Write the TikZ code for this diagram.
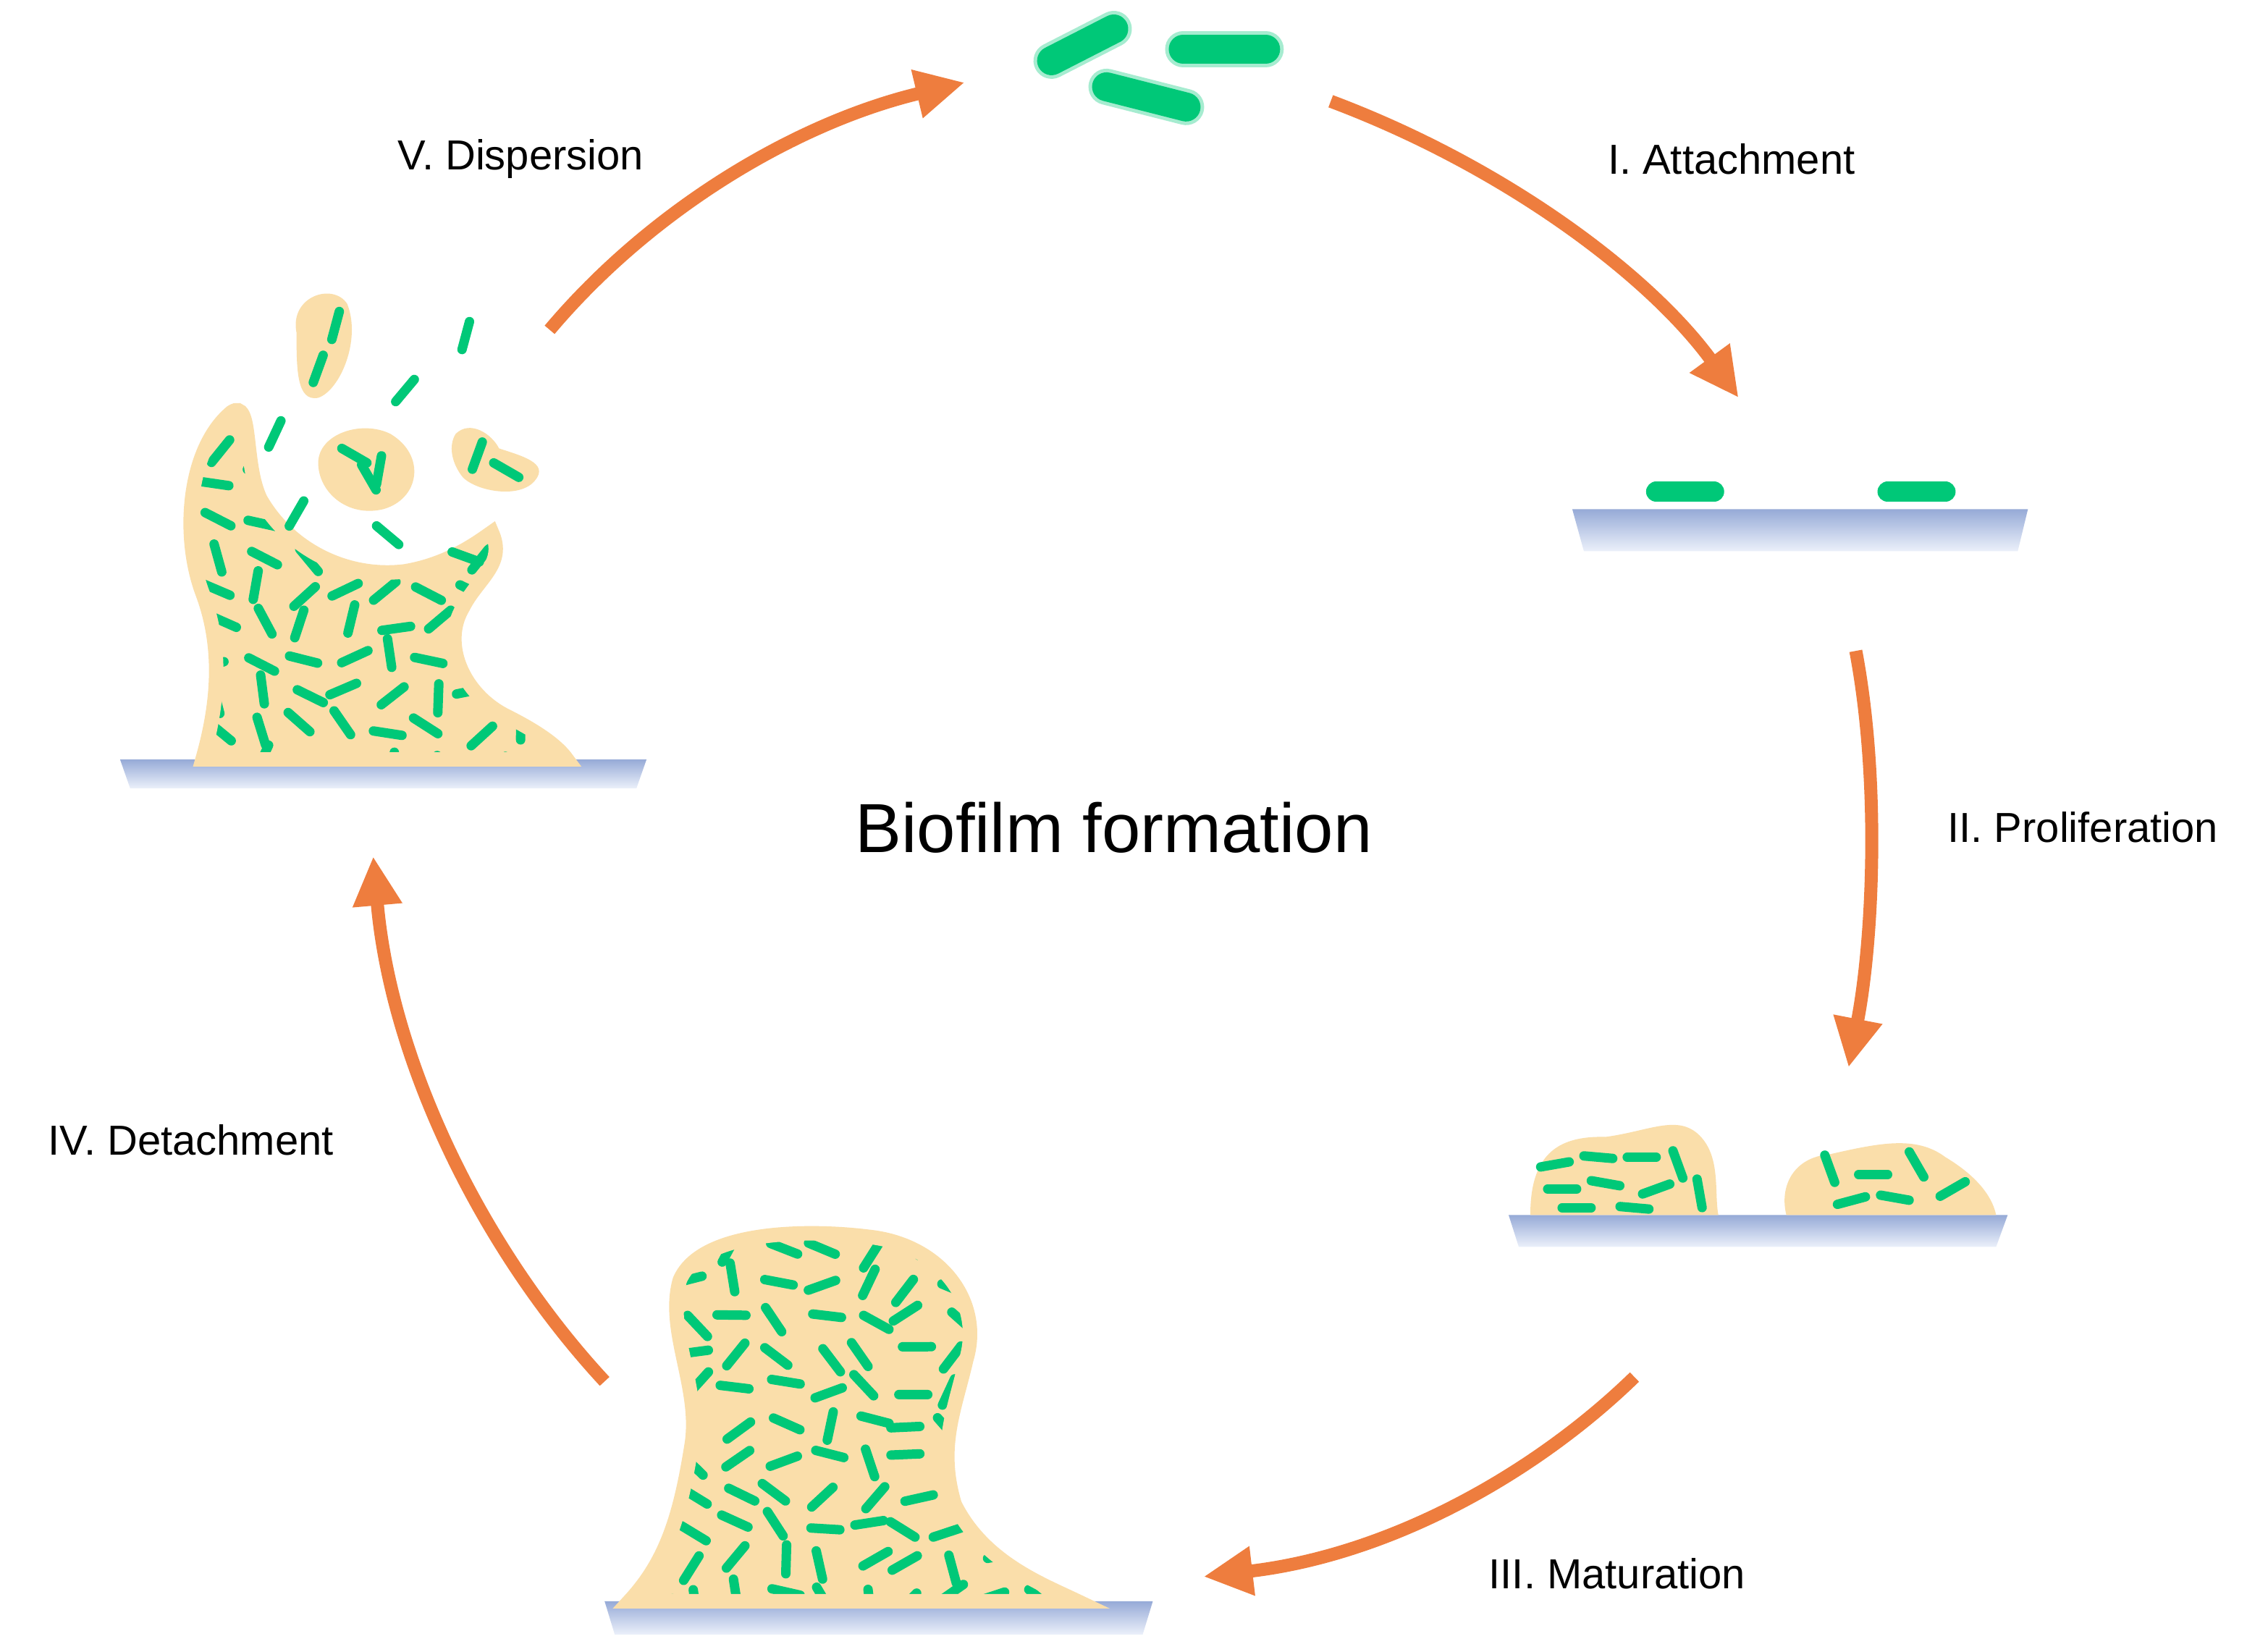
\documentclass[tikz,border=0pt]{standalone}
\usepackage{fontspec}
\setmainfont{Liberation Sans}
\usetikzlibrary{arrows.meta}
\definecolor{arr}{RGB}{238,125,62}
\definecolor{bact}{RGB}{0,200,120}
\definecolor{film}{RGB}{250,222,170}
\definecolor{surfT}{RGB}{150,170,215}
\definecolor{surfB}{RGB}{235,240,250}
\tikzset{
 flow/.style={draw=arr,line width=9pt,-{Triangle[length=34pt,width=32pt]}},
 rod/.style={draw=bact,line width=6.5pt,line cap=round},
 big/.style={draw=bact,line width=20pt,line cap=round},
 halo/.style={draw=bact!35,line width=25pt,line cap=round},
 lab/.style={font=\fontsize{29}{32}\selectfont},
 surf/.style={top color=surfT,bottom color=surfB,draw=none},
 blob/.style={fill=film},
 edge/.style={draw=film,line width=10pt}
}
\newcommand{\rods}[4]{% xmin xmax ymin ymax
 \foreach \gx in {#1,...,#2}{\foreach \gy in {#3,...,#4}{%
  \pgfmathsetmacro{\ang}{rnd*180}\pgfmathsetmacro{\dx}{rand*6}\pgfmathsetmacro{\dy}{rand*5}%
  \draw[rod] ([shift={(\dx,\dy)}]\gx*28:0,0) ++(0,0) ;%
  \draw[rod,shift={(\gx*30+\dx,\gy*24+\dy)}] (\ang:10) -- (\ang+180:10);}}}
\begin{document}
\begin{tikzpicture}[x=1pt,y=-1pt]
\pgfmathsetseed{7}
\useasboundingbox[fill=white] (0,0) rectangle (1568,1142);
% top free bacteria
\draw[halo] (727,42) -- (770,20); \draw[big] (727,42) -- (770,20);
\draw[halo] (818,34) -- (875,34); \draw[big] (818,34) -- (875,34);
\draw[halo] (765,60) -- (820,74); \draw[big] (765,60) -- (820,74);
% attachment
\path[surf] (1087,352) -- (1402,352) -- (1395,381) -- (1095,381) -- cycle;
\draw[bact,line width=14pt,line cap=round] (1145,340) -- (1185,340);
\draw[bact,line width=14pt,line cap=round] (1305,340) -- (1345,340);
% proliferation
\path[surf] (1043,840) -- (1388,840) -- (1380,862) -- (1050,862) -- cycle;
\path[blob] (1058,840) .. controls (1058,800) and (1075,785) .. (1110,786) .. controls (1140,782) and (1160,770) .. (1175,785) .. controls (1190,800) and (1185,825) .. (1188,840) -- cycle;
\path[blob] (1235,840) .. controls (1230,820) and (1240,800) .. (1265,798) .. controls (1300,790) and (1325,785) .. (1345,800) .. controls (1370,815) and (1378,830) .. (1380,840) -- cycle;
\foreach \a/\b/\r in {1075/805/-10,1105/800/5,1135/800/0,1160/805/70,1080/822/0,1110/818/10,1145/822/-20,1175/825/80,1090/835/0,1130/835/5,1265/808/70,1295/812/0,1325/805/60,1280/830/-15,1310/828/10,1350/822/-30}
 \draw[rod] ([shift={(\r:10)}]\a,\b) -- ([shift={(\r+180:10)}]\a,\b);
% maturation
\path[surf] (418,1107) -- (797,1107) -- (790,1130) -- (425,1130) -- cycle;
\def\matblob{(435,1107) .. controls (460,1080) and (470,1050) .. (478,1000) .. controls (485,960) and (460,920) .. (470,885) .. controls (485,850) and (560,850) .. (600,855) .. controls (650,860) and (680,900) .. (668,940) .. controls (660,975) and (648,1000) .. (660,1040) .. controls (680,1080) and (720,1095) .. (745,1107) -- cycle}
\path[blob] \matblob;
\begin{scope}\clip \matblob;
 \foreach \gx in {15,...,25}{\foreach \gy in {36,...,46}{%
  \pgfmathsetmacro{\ang}{rnd*180}\pgfmathsetmacro{\dx}{rand*6}\pgfmathsetmacro{\dy}{rand*5}%
  \draw[rod,shift={(\gx*30+\dx,\gy*24+\dy)}] (\ang:10) -- (\ang+180:10);}}
\end{scope}
\draw[edge] \matblob;
% detachment / dispersion
\path[surf] (83,525) -- (447,525) -- (440,545) -- (90,545) -- cycle;
\def\detblob{(140,525) .. controls (150,490) and (155,450) .. (140,410) .. controls (125,370) and (130,310) .. (160,285) .. controls (175,275) and (168,320) .. (180,345) .. controls (200,380) and (240,400) .. (280,395) .. controls (310,390) and (330,375) .. (340,368) .. controls (350,390) and (330,400) .. (320,420) .. controls (305,445) and (320,480) .. (350,495) .. controls (370,505) and (385,515) .. (392,525) -- cycle}
\path[blob] \detblob;
\begin{scope}\clip \detblob;
 \foreach \gx in {5,...,13}{\foreach \gy in {13,...,22}{%
  \pgfmathsetmacro{\ang}{rnd*180}\pgfmathsetmacro{\dx}{rand*6}\pgfmathsetmacro{\dy}{rand*5}%
  \draw[rod,shift={(\gx*30+\dx,\gy*24+\dy)}] (\ang:10) -- (\ang+180:10);}}
\end{scope}
\draw[edge] \detblob;
\path[blob] (205,230) .. controls (200,205) and (230,195) .. (240,210) .. controls (250,235) and (235,270) .. (220,275) .. controls (205,278) and (205,255) .. (205,230) -- cycle;
\path[blob] (220,320) .. controls (220,300) and (250,290) .. (270,300) .. controls (295,315) and (290,345) .. (265,352) .. controls (240,358) and (220,340) .. (220,320) -- cycle;
\path[blob] (315,300) .. controls (325,290) and (340,300) .. (345,310) .. controls (360,315) and (380,320) .. (370,332) .. controls (360,345) and (330,340) .. (320,330) .. controls (312,320) and (310,308) .. (315,300) -- cycle;
\foreach \a/\b/\r in {220/255/-70,232/225/-75,245/315/30,255/330/60,262/325/-80,330/315/-70,350/325/30,322/232/-75,280/270/-50,190/300/-65,205/355/-60,268/370/40,322/385/20}
 \draw[rod] ([shift={(\r:10)}]\a,\b) -- ([shift={(\r+180:10)}]\a,\b);
% arrows
\coordinate (a1) at (920,70); \coordinate (b1) at (1202,275);
\coordinate (a2) at (1283,450); \coordinate (b2) at (1278,738);
\coordinate (a3) at (1130,952); \coordinate (b3) at (832,1090);
\coordinate (a4) at (418,955); \coordinate (b4) at (258,592);
\coordinate (a5) at (380,228); \coordinate (b5) at (667,57);
\draw[flow] (a1) .. controls (1040,115) and (1140,190) .. (b1);
\draw[flow] (a2) .. controls (1300,540) and (1295,650) .. (b2);
\draw[flow] (a3) .. controls (1060,1020) and (960,1075) .. (b3);
\draw[flow] (a4) .. controls (330,860) and (270,730) .. (b4);
\draw[flow] (a5) .. controls (450,145) and (550,85) .. (b5);
% labels
\node[lab] (l1) at (1197,110) {I. Attachment};
\node[lab] (l2) at (1440,572) {II. Proliferation};
\node[lab] (l3) at (1118,1088) {III. Maturation};
\node[lab] (l4) at (132,788) {IV. Detachment};
\node[lab] (l5) at (360,110) {V. Dispersion};
\node[font=\fontsize{48}{52}\selectfont] (t) at (770,572) {Biofilm formation};
\end{tikzpicture}
\end{document}
